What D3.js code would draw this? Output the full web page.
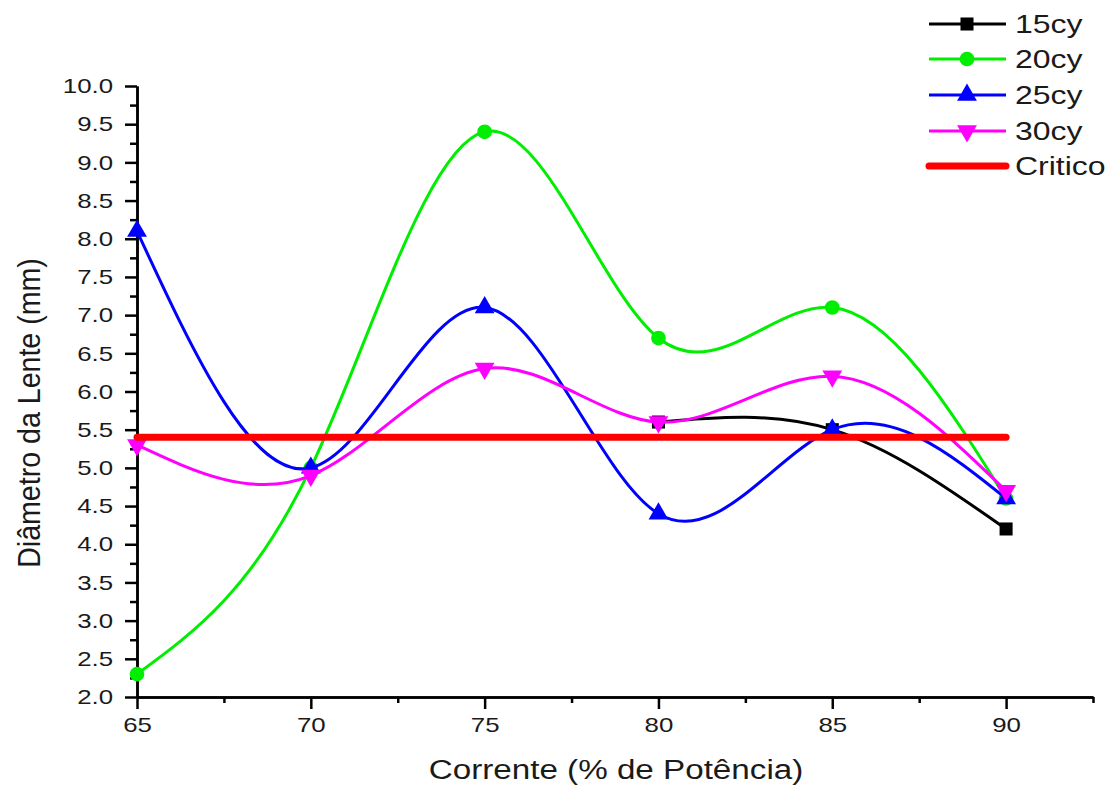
<!DOCTYPE html>
<html><head><meta charset="utf-8">
<script src="https://cdn.jsdelivr.net/npm/d3@7/dist/d3.min.js"></script>
<style>body{margin:0;background:#fff;} text{font-family:"Liberation Sans",Arial,sans-serif;fill:#1a1a1a;}</style>
</head><body><svg id="c" width="1114" height="787"></svg>
<script>
const xCats = [65, 70, 75, 80, 85, 90];
const s15 = [null, null, null, 5.6, 5.5, 4.2];
const s20 = [2.3, 5.0, 9.4, 6.7, 7.1, 4.6];
const s25 = [8.1, 5.0, 7.1, 4.4, 5.5, 4.6];
const s30 = [5.3, 4.9, 6.3, 5.6, 6.2, 4.7];
const critico = [5.4, 5.4, 5.4, 5.4, 5.4, 5.4];
const yTicks = [2.0,2.5,3.0,3.5,4.0,4.5,5.0,5.5,6.0,6.5,7.0,7.5,8.0,8.5,9.0,9.5,10.0];
const xTicks = [65,70,75,80,85,90];
const seriesNames = ["15cy","20cy","25cy","30cy","Critico"];

const SX = 1.23; // horizontal stretch of glyphs seen in the reference
const svg = d3.select("#c");
const x = d3.scaleLinear().domain([65, 92.5]).range([137, 1093]);
const y = d3.scaleLinear().domain([2, 10]).range([697, 86]);

const xAxis = d3.axisBottom(x).tickValues(xTicks).tickFormat(d3.format("d")).tickSizeInner(12).tickSizeOuter(0).tickPadding(8);
const xMinor = d3.axisBottom(x).tickValues([67.5,72.5,77.5,82.5,87.5,92.5]).tickFormat("").tickSizeInner(6).tickSizeOuter(0);
const yAxis = d3.axisLeft(y).tickValues(yTicks).tickFormat(d3.format(".1f")).tickSizeInner(12).tickSizeOuter(0).tickPadding(12);
const yMinor = d3.axisLeft(y).tickValues(d3.range(2.25, 10, 0.5)).tickFormat("").tickSizeInner(7).tickSizeOuter(0);

function styleAx(g){ g.select(".domain").attr("stroke","#000").attr("stroke-width",2.5);
  g.selectAll(".tick line").attr("stroke","#000").attr("stroke-width",2.5);
  g.selectAll("text").attr("font-size",21).attr("fill","#1a1a1a").style("font-family","Liberation Sans, Arial, sans-serif"); }

svg.append("g").attr("transform","translate(0,697)").call(xMinor).call(styleAx);
const gx = svg.append("g").attr("transform","translate(0,697)").call(xAxis).call(styleAx);
gx.selectAll(".tick text").attr("transform",`scale(${SX},1)`);
svg.append("g").attr("transform","translate(137,0)").call(yMinor).call(styleAx);
const gy = svg.append("g").attr("transform","translate(137,0)").call(yAxis).call(styleAx);
gy.selectAll(".tick text").attr("x", -24/SX).attr("transform",`scale(${SX},1)`);

svg.append("text").attr("transform",`translate(616,779) scale(${SX},1)`).attr("text-anchor","middle").attr("font-size",27).text("Corrente (% de Potência)");
svg.append("text").attr("transform","translate(40,413) rotate(-90) scale(1.1,1.2)").attr("text-anchor","middle").attr("font-size",26).text("Diâmetro da Lente (mm)");

const line = d3.line().x(d=>x(d[0])).y(d=>y(d[1])).curve(d3.curveNatural);

const sym = {
  square: d3.symbol().type(d3.symbolSquare).size(170),
  circle: d3.symbol().type(d3.symbolCircle).size(170),
  up: d3.symbol().type(d3.symbolTriangle).size(170),
};
function marker(g, type, cx, cy, col){
  if(type==="down"){
    g.append("path").attr("d", sym.up()).attr("transform",`translate(${cx},${cy}) rotate(180)`).attr("fill",col);
  } else {
    g.append("path").attr("d", sym[type]()).attr("transform",`translate(${cx},${cy})`).attr("fill",col);
  }
}

const series = [
  {name:"15cy", vals:s15, color:"#000000", m:"square"},
  {name:"20cy", vals:s20, color:"#00ee00", m:"circle"},
  {name:"25cy", vals:s25, color:"#0000ff", m:"up"},
  {name:"30cy", vals:s30, color:"#ff00ff", m:"down"},
];
series.forEach(s=>{
  const pts = xCats.map((c,i)=>[c, s.vals[i]]).filter(d=>d[1]!=null);
  const g = svg.append("g");
  g.append("path").datum(pts).attr("d",line).attr("fill","none").attr("stroke",s.color).attr("stroke-width",3);
  pts.forEach(p=>marker(g, s.m, x(p[0]), y(p[1]), s.color));
});
const critPts = xCats.map((c,i)=>[c, critico[i]]);
svg.append("path").datum(critPts).attr("d", d3.line().x(d=>x(d[0])).y(d=>y(d[1])))
  .attr("fill","none").attr("stroke","#ff0000").attr("stroke-width",7).attr("stroke-linecap","round");

// legend
const lg = svg.append("g");
const legY = [24, 59, 95, 131, 166];
const legItems = [...series, {name:"Critico", color:"#ff0000", m:null}];
legItems.forEach((s,i)=>{
  const yy = legY[i];
  lg.append("line").attr("x1",929).attr("x2",1006).attr("y1",yy).attr("y2",yy)
    .attr("stroke",s.color).attr("stroke-width", s.m? 3 : 7).attr("stroke-linecap", s.m? "butt":"round");
  if(s.m) marker(lg, s.m, 967, yy, s.color);
  lg.append("text").attr("transform",`translate(1015,${yy+9}) scale(${SX},1)`).attr("font-size",26).text(seriesNames[i]);
});
</script></body></html>
